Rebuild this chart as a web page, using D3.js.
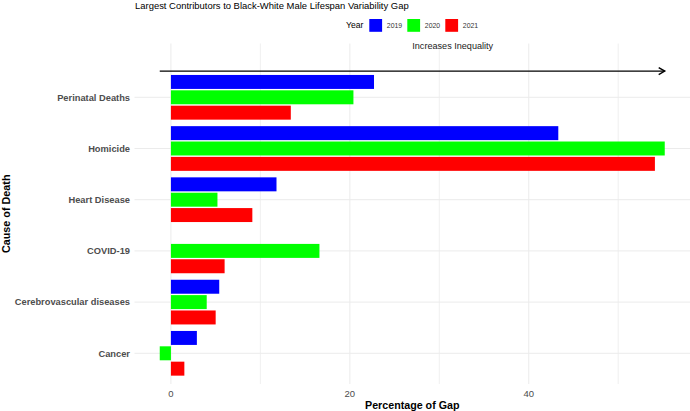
<!DOCTYPE html>
<html>
<head>
<meta charset="utf-8">
<script src="https://cdn.jsdelivr.net/npm/d3@7"></script>
<style>
  html, body { margin: 0; padding: 0; background: #fff; }
  text { font-family: "Liberation Sans", Arial, sans-serif; }
</style>
</head>
<body>
<svg id="chart" width="690" height="411"></svg>
<script>
// ---- data ----
const categories = ["Perinatal Deaths", "Homicide", "Heart Disease", "COVID-19", "Cerebrovascular diseases", "Cancer"];
const years = ["2019", "2020", "2021"];
const values2019 = [22.7, 43.3, 11.8, null, 5.4, 2.9];
const values2020 = [20.4, 55.2, 5.2, 16.6, 4.0, -1.25];
const values2021 = [13.4, 54.1, 9.1, 6.0, 5.0, 1.5];
const yearColors = ["#0000FF", "#00FF00", "#FF0000"];
const xMajorTicks = [0, 20, 40];
const xMinorTicks = [10, 30, 50];
const titleText = "Largest Contributors to Black-White Male Lifespan Variability Gap";
const arrowLabel = "Increases Inequality";

const seriesByYear = [values2019, values2020, values2021];
const rows = [];
categories.forEach((c, i) => {
  years.forEach((yr, j) => {
    const v = seriesByYear[j][i];
    if (v !== null) rows.push({ cause: c, year: yr, value: v });
  });
});

const svg = d3.select("#chart");
const panel = { left: 134.5, right: 690, top: 43.5, bottom: 384 };

const allVals = rows.map(d => d.value);
const [vmin, vmax] = d3.extent(allVals);
const pad = (vmax - vmin) * 0.05;
const x = d3.scaleLinear().domain([vmin - pad, vmax + pad]).range([panel.left, panel.right]);

const y = d3.scaleBand().domain(categories).range([71.7, 378.9]).padding(0);
const step = y.step();
const yInner = d3.scaleBand().domain(years).range([step * 0.05, step * 0.95]).padding(0);
const barH = yInner.bandwidth() * 0.91;

// gridlines
const grid = svg.append("g");
grid.selectAll("line.minor").data(xMinorTicks).join("line")
  .attr("x1", d => x(d)).attr("x2", d => x(d))
  .attr("y1", panel.top).attr("y2", panel.bottom)
  .attr("stroke", "#ececec").attr("stroke-width", 0.8);
grid.selectAll("line.major").data(xMajorTicks).join("line")
  .attr("x1", d => x(d)).attr("x2", d => x(d))
  .attr("y1", panel.top).attr("y2", panel.bottom)
  .attr("stroke", "#ebebeb").attr("stroke-width", 1);
grid.selectAll("line.hy").data(categories).join("line")
  .attr("x1", panel.left).attr("x2", panel.right)
  .attr("y1", d => y(d) + step / 2).attr("y2", d => y(d) + step / 2)
  .attr("stroke", "#ebebeb").attr("stroke-width", 1);

// bars
svg.append("g").selectAll("rect").data(rows).join("rect")
  .attr("x", d => x(Math.min(0, d.value)))
  .attr("width", d => Math.abs(x(d.value) - x(0)))
  .attr("y", d => y(d.cause) + yInner(d.year) + (yInner.bandwidth() - barH) / 2)
  .attr("height", barH)
  .attr("fill", d => yearColors[years.indexOf(d.year)]);

// arrow
const arrowY = y(categories[0]) - 0.6;
const ax1 = x(vmin), ax2 = x(vmax);
svg.append("line")
  .attr("x1", ax1).attr("x2", ax2).attr("y1", arrowY).attr("y2", arrowY)
  .attr("stroke", "#000").attr("stroke-width", 1.4);
const hl = 7, ang = Math.PI / 6;
svg.append("path")
  .attr("d", `M${ax2 - hl * Math.cos(ang)},${arrowY - hl * Math.sin(ang)} L${ax2},${arrowY} L${ax2 - hl * Math.cos(ang)},${arrowY + hl * Math.sin(ang)}`)
  .attr("fill", "none").attr("stroke", "#000").attr("stroke-width", 1.4);
svg.append("text")
  .attr("x", x((vmin + vmax) / 2)).attr("y", y(categories[0]) - step / 2 + 3.2)
  .attr("font-size", 9.1).attr("fill", "#1a1a1a")
  .text(arrowLabel);

// y axis labels
svg.append("g").selectAll("text").data(categories).join("text")
  .attr("x", 130).attr("y", d => y(d) + step / 2 + 3.3)
  .attr("text-anchor", "end")
  .attr("font-size", 9.3).attr("font-weight", "bold").attr("fill", "#4d4d4d")
  .text(d => d);

// x tick labels
svg.append("g").selectAll("text").data(xMajorTicks).join("text")
  .attr("x", d => x(d)).attr("y", 397)
  .attr("text-anchor", "middle")
  .attr("font-size", 9.5).attr("fill", "#4d4d4d")
  .text(d => d);

// axis titles
svg.append("text")
  .attr("x", (panel.left + panel.right) / 2).attr("y", 408.7)
  .attr("text-anchor", "middle").attr("font-size", 10.7).attr("font-weight", "bold").attr("fill", "#000")
  .text("Percentage of Gap");
svg.append("text")
  .attr("transform", `translate(9.8,${(panel.top + panel.bottom) / 2}) rotate(-90)`)
  .attr("text-anchor", "middle").attr("font-size", 10.8).attr("font-weight", "bold").attr("fill", "#000")
  .text("Cause of Death");

// title
svg.append("text")
  .attr("x", 135).attr("y", 8.5)
  .attr("font-size", 9.45).attr("fill", "#000")
  .text(titleText);

// legend
const lg = svg.append("g");
lg.append("text").attr("x", 346).attr("y", 28.3).attr("font-size", 8.6).attr("fill", "#000").text("Year");
const keyX = [369.3, 407.3, 445.3];
years.forEach((yr, j) => {
  lg.append("rect").attr("x", keyX[j]).attr("y", 19).attr("width", 12.8).attr("height", 12.8).attr("fill", yearColors[j]);
  lg.append("text").attr("x", keyX[j] + 17.5).attr("y", 27.8).attr("font-size", 6.9).attr("fill", "#333").text(yr);
});
</script>
</body>
</html>
